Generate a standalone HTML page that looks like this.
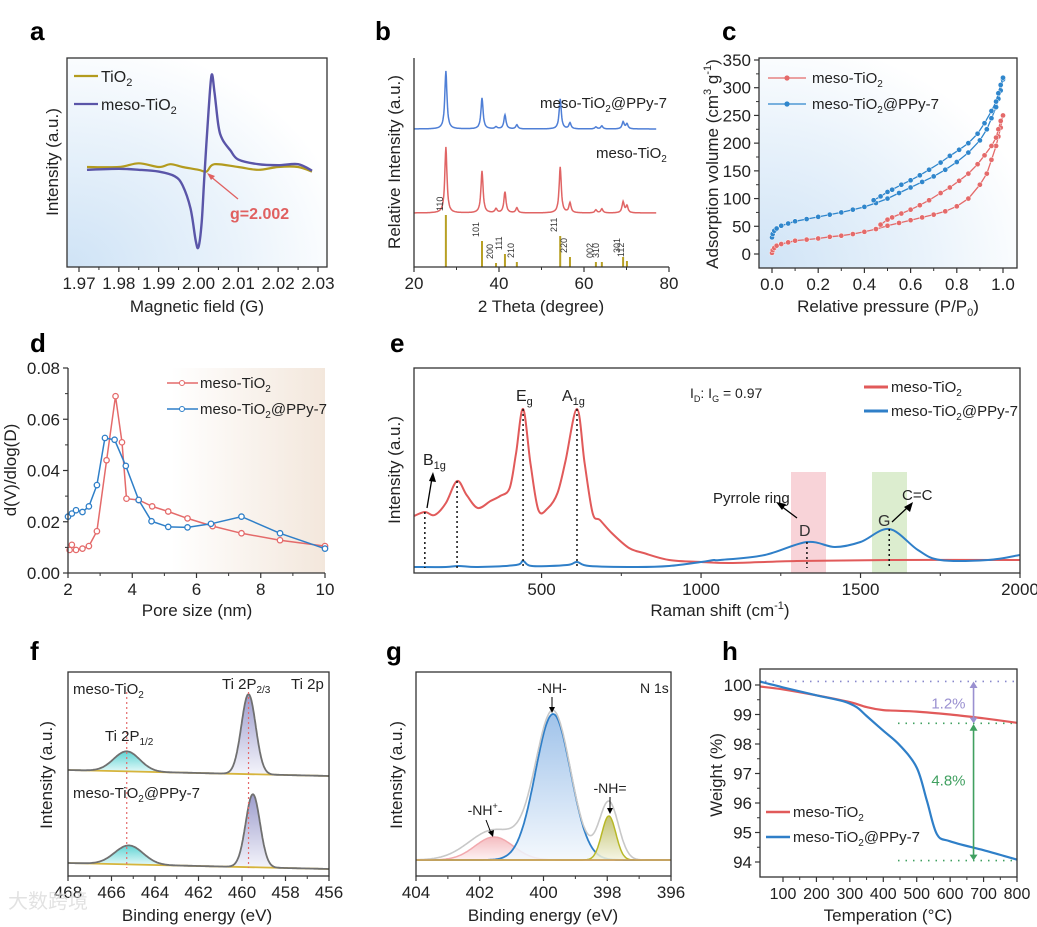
<!DOCTYPE html>
<html><head><meta charset="utf-8"><style>
html,body{margin:0;padding:0;background:#fff;}
svg{display:block;font-family:"Liberation Sans","Noto Sans CJK SC",sans-serif;}
</style></head><body>
<svg id="fig" width="1037" height="927" viewBox="0 0 1037 927" xmlns="http://www.w3.org/2000/svg">
<defs>
<radialGradient id="gBlue" cx="0" cy="1" r="1.1"><stop offset="0" stop-color="#cfe3f6"/><stop offset="0.6" stop-color="#eaf3fb"/><stop offset="1" stop-color="#ffffff"/></radialGradient>
<linearGradient id="gTan" x1="0" x2="1"><stop offset="0" stop-color="#ffffff"/><stop offset="0.4" stop-color="#ffffff"/><stop offset="1" stop-color="#f3e7dc"/></linearGradient>
<linearGradient id="gCyan" x1="0" y1="0" x2="0" y2="1"><stop offset="0" stop-color="#5fd3d3"/><stop offset="1" stop-color="#e6fafa"/></linearGradient>
<linearGradient id="gLav" x1="0" y1="0" x2="0" y2="1"><stop offset="0" stop-color="#9c9ccc"/><stop offset="1" stop-color="#f4f4fb"/></linearGradient>
<linearGradient id="gNH" x1="0" y1="0" x2="0" y2="1"><stop offset="0" stop-color="#8fb8e6"/><stop offset="1" stop-color="#f2f7fd"/></linearGradient>
<linearGradient id="gPink" x1="0" y1="0" x2="0" y2="1"><stop offset="0" stop-color="#f3b0b5"/><stop offset="1" stop-color="#fdf0f1"/></linearGradient>
<linearGradient id="gOlive" x1="0" y1="0" x2="0" y2="1"><stop offset="0" stop-color="#b8b85a"/><stop offset="1" stop-color="#f4f4e0"/></linearGradient>
</defs>
<g font-weight="bold" font-size="26" fill="#000">
<text x="30" y="40">a</text>
<text x="375" y="40">b</text>
<text x="722" y="40">c</text>
<text x="30" y="352">d</text>
<text x="390" y="352">e</text>
<text x="30" y="660">f</text>
<text x="386" y="660">g</text>
<text x="722" y="660">h</text>
</g>
</svg>
<script>
// ---------- data ----------
// a: EPR
const epr_x = [1.972,1.98,1.985,1.99,1.994,1.996,1.998,1.9993,2.0,2.0008,2.0015,2.0025,2.0033,2.004,2.005,2.006,2.008,2.01,2.015,2.02,2.025,2.0285];
const epr_meso = [-0.03,-0.02,-0.03,-0.05,-0.1,-0.2,-0.45,-0.8,-0.87,-0.6,-0.08,0.6,1.0,0.82,0.45,0.3,0.18,0.08,0.03,0.02,0.03,-0.04];
const epr_x2 = [1.972,1.98,1.985,1.99,1.993,1.996,2.0,2.002,2.004,2.01,2.015,2.02,2.025,2.0285];
const epr_tio2 = [0.0,0.0,0.04,0.0,0.03,0.0,-0.03,-0.05,0.03,0.0,-0.03,0.0,0.0,-0.05];
const a_xticks = [1.97,1.98,1.99,2.00,2.01,2.02,2.03];
// b: XRD (peak position, height)
const xrd_pos = [27.5,36.0,39.3,41.4,44.2,54.4,56.7,62.8,64.2,69.2,70.1];
const xrd_red_h = [66,42,4,21,5,46,10,3,4,11,7];
const xrd_blue_h = [58,31,2,14,4,30,6,2,3,7,5];
const ref_h = [52,26,4,13,5,31,10,5,5,10,6];
const ref_lbl = ['110','101','200','111','210','211','220','002','310','301','112'];
const b_xticks = [20,40,60,80];
// c: BET isotherms
const c_red_ads_x = [0,0.003,0.01,0.02,0.04,0.07,0.1,0.15,0.2,0.25,0.3,0.35,0.4,0.45,0.5,0.55,0.6,0.65,0.7,0.75,0.8,0.85,0.9,0.93,0.95,0.97,0.98,0.99,1.0];
const c_red_ads_y = [2,7,11,15,18,21,24,26,28,31,33,36,40,45,51,56,61,66,71,77,86,100,125,145,170,195,212,228,250];
const c_red_des_x = [1.0,0.99,0.98,0.97,0.95,0.92,0.89,0.85,0.81,0.77,0.73,0.68,0.64,0.6,0.56,0.52,0.5,0.47];
const c_red_des_y = [250,240,225,210,195,178,162,145,132,120,110,97,88,80,73,66,62,53];
const c_blue_ads_x = [0,0.003,0.01,0.02,0.04,0.07,0.1,0.15,0.2,0.25,0.3,0.35,0.4,0.45,0.5,0.55,0.6,0.65,0.7,0.75,0.8,0.85,0.9,0.93,0.95,0.97,0.98,0.99,1.0];
const c_blue_ads_y = [30,36,42,46,51,55,59,63,67,71,75,80,85,92,100,110,120,130,140,152,166,183,205,225,245,265,280,295,315];
const c_blue_des_x = [1.0,0.99,0.98,0.97,0.95,0.92,0.89,0.85,0.81,0.77,0.73,0.68,0.64,0.6,0.56,0.52,0.5,0.47,0.44];
const c_blue_des_y = [318,305,290,275,258,236,217,200,188,177,165,152,142,133,125,116,112,104,97];
const c_xticks = [0,0.2,0.4,0.6,0.8,1.0];
const c_yticks = [0,50,100,150,200,250,300,350];
// d: pore size distribution
const d_red_x = [2.05,2.12,2.25,2.45,2.65,2.9,3.2,3.48,3.68,3.82,4.2,4.62,5.12,5.72,6.5,7.4,8.6,10];
const d_red_y = [0.009,0.011,0.009,0.0095,0.0105,0.0163,0.044,0.069,0.051,0.029,0.0285,0.026,0.024,0.0213,0.0183,0.0155,0.0128,0.0105];
const d_blue_x = [2.0,2.12,2.25,2.45,2.65,2.9,3.15,3.45,3.8,4.2,4.6,5.12,5.72,6.45,7.4,8.6,10];
const d_blue_y = [0.022,0.0232,0.0245,0.0238,0.026,0.0343,0.0527,0.052,0.0418,0.0285,0.0202,0.018,0.0178,0.0192,0.022,0.0155,0.0095];
const d_xticks = [2,4,6,8,10];
const d_yticks = [0,0.02,0.04,0.06,0.08];
// e: Raman
const e_red_x = [100,134,165,200,235,265,300,340,370,400,420,442,465,490,520,550,575,611,635,660,683,720,774,820,900,1000,1100,1300,1600,2000];
const e_red_y = [57,61,58,70,92,78,65,72,77,85,120,164,110,63,65,80,112,164,110,60,53,40,25,20,13,11,10,12,13,13];
const e_blue_x = [100,200,240,300,420,442,470,580,611,650,800,900,1000,1040,1060,1200,1332,1420,1500,1590,1680,1750,1900,2000];
const e_blue_y = [6,6,7,6,8,12,7,8,11,7,6,7,11,13,13,18,31,26,31,44,23,13,13,18];
const e_marks = [134,235,442,611,1332,1590];
const e_xticks = [500,1000,1500,2000];
// f: Ti 2p fits (center eV, height, sigma)
const f_up_c = [459.7,465.3], f_up_h = [80,20], f_up_s = [0.33,0.6];
const f_lo_c = [459.5,465.2], f_lo_h = [73,19], f_lo_s = [0.33,0.65];
const f_up_bg = [107,101], f_lo_bg = [14,8];
const f_xticks = [468,466,464,462,460,458,456];
// g: N 1s fits
const g_c = [401.55,399.7,397.95], g_h = [23,146,44], g_s = [0.6,0.55,0.22];
const g_env_h = [30,148,58];
const g_xticks = [404,402,400,398,396];
// h: TGA
const h_red_x = [30,100,200,300,350,400,500,600,700,800];
const h_red_y = [99.95,99.85,99.65,99.42,99.25,99.15,99.1,99.0,98.87,98.72];
const h_blue_x = [30,100,200,280,320,350,400,450,500,530,560,600,700,800];
const h_blue_y = [100.12,99.92,99.65,99.45,99.25,98.95,98.45,97.95,97.2,96.1,94.95,94.7,94.4,94.08];
const h_xticks = [100,200,300,400,500,600,700,800];
const h_yticks = [94,95,96,97,98,99,100];

// ---------- helpers ----------
const NS='http://www.w3.org/2000/svg';
const svg=document.getElementById('fig');
function mk(tag,attrs,parent){const e=document.createElementNS(NS,tag);for(const k in attrs)e.setAttribute(k,attrs[k]);(parent||svg).appendChild(e);return e;}
function lin(d0,d1,r0,r1){return v=>r0+(v-d0)*(r1-r0)/(d1-d0);}
function smooth(pts){let d='M'+pts[0][0].toFixed(1)+','+pts[0][1].toFixed(1);for(let i=0;i<pts.length-1;i++){const p0=pts[i-1]||pts[i],p1=pts[i],p2=pts[i+1],p3=pts[i+2]||p2;const c1=[p1[0]+(p2[0]-p0[0])/6,p1[1]+(p2[1]-p0[1])/6],c2=[p2[0]-(p3[0]-p1[0])/6,p2[1]-(p3[1]-p1[1])/6];d+='C'+c1[0].toFixed(1)+','+c1[1].toFixed(1)+' '+c2[0].toFixed(1)+','+c2[1].toFixed(1)+' '+p2[0].toFixed(1)+','+p2[1].toFixed(1);}return d;}
function poly(pts){return 'M'+pts.map(p=>p[0].toFixed(1)+','+p[1].toFixed(1)).join('L');}
function txt(x,y,s,opts){const t=mk('text',Object.assign({x:x,y:y,'font-size':16,fill:'#222'},opts||{}));t.innerHTML=s;return t;}
function box(x0,y0,x1,y1,name,sides){const g=mk('g',{});
 if(sides==='LB'){mk('path',{d:`M${x0},${y0}V${y1}H${x1}`,fill:'none',stroke:'#333','stroke-width':1.3},g);}
 else mk('rect',{x:x0,y:y0,width:x1-x0,height:y1-y0,fill:'none',stroke:'#333','stroke-width':1.3},g);return g;}
function xTicks(ticks,sx,y,lbls,name,fs){const g=mk('g',{});
 ticks.forEach((t,i)=>{const x=sx(t);mk('line',{x1:x,x2:x,y1:y,y2:y+5,stroke:'#333','stroke-width':1.2},g);const tt=txt(x,y+22,lbls?lbls[i]:String(t),{'text-anchor':'middle','font-size':fs||17});g.appendChild(tt);
 if(i<ticks.length-1){const xm=sx((t+ticks[i+1])/2);mk('line',{x1:xm,x2:xm,y1:y,y2:y+3,stroke:'#333','stroke-width':1},g);}});}
function yTicks(ticks,sy,x,lbls,name,fs){const g=mk('g',{});
 ticks.forEach((t,i)=>{const y=sy(t);mk('line',{x1:x-5,x2:x,y1:y,y2:y,stroke:'#333','stroke-width':1.2},g);const tt=txt(x-8,y+6,lbls?lbls[i]:String(t),{'text-anchor':'end','font-size':fs||17});g.appendChild(tt);
 if(i<ticks.length-1){const ym=sy((t+ticks[i+1])/2);mk('line',{x1:x-3,x2:x,y1:ym,y2:ym,stroke:'#333','stroke-width':1},g);}});}
function ytitle(x,y,s,name){const t=txt(x,y,s,{'text-anchor':'middle','font-size':17,transform:`rotate(-90 ${x} ${y})`});return t;}
function xtitle(x,y,s,name){const t=txt(x,y,s,{'text-anchor':'middle','font-size':17});return t;}
function gauss(c,h,s,x){return h*Math.exp(-0.5*((x-c)/s)**2);}
function lor(c,h,w,x){return h/(1+((x-c)/w)**2);}

// ---------- panel a ----------
{const sx=lin(1.97,2.03,79,318), sy=v=>167-v*92;
 const bg=mk('rect',{x:67,y:58,width:260,height:209,fill:'url(#gBlue)'});
 const l1=mk('path',{d:smooth(epr_x2.map((x,i)=>[sx(x),sy(epr_tio2[i])])),fill:'none',stroke:'#b39b1e','stroke-width':2.2});
 
 
 const l2=mk('path',{d:smooth(epr_x.map((x,i)=>[sx(x),sy(epr_meso[i])])),fill:'none',stroke:'#5a55a8','stroke-width':2.4});
 
 
 box(67,58,327,267,'a-axes-frame');
 xTicks(a_xticks,sx,267,a_xticks.map(v=>v.toFixed(2)),'a-x-ticks');
 xtitle(197,312,'Magnetic field (G)','a-x-title');
 ytitle(58,162,'Intensity (a.u.)','a-y-title');
 const lg=mk('g',{});
 mk('line',{x1:74,x2:98,y1:76,y2:76,stroke:'#b39b1e','stroke-width':2.2},lg);lg.appendChild(txt(101,82,'TiO<tspan font-size="11" dy="4">2</tspan>',{'font-size':16}));
 mk('line',{x1:74,x2:98,y1:104,y2:104,stroke:'#5a55a8','stroke-width':2.2},lg);lg.appendChild(txt(101,110,'meso-TiO<tspan font-size="11" dy="4">2</tspan>',{'font-size':16}));
 const ar=mk('g',{});
 mk('line',{x1:238,x2:210,y1:199,y2:176,stroke:'#e06060','stroke-width':1.3},ar);mk('path',{d:'M207,173 L215,176 L211,180 Z',fill:'#e06060'},ar);
 ar.appendChild(txt(230,219,'g=2.002',{'font-size':16,'font-weight':'bold',fill:'#e06060'}));
}
// ---------- panel b ----------
{const sx=lin(20,80,414,669);
 function spec(base,hs){const pts=[];for(let t=20;t<=77;t+=0.1){let v=0;xrd_pos.forEach((p,i)=>{v+=lor(p,hs[i],0.3,t);});pts.push([sx(t),base-v]);}return poly(pts);}
 const r=mk('path',{d:spec(213,xrd_red_h),fill:'none',stroke:'#e06464','stroke-width':1.5});
 
 
 const b=mk('path',{d:spec(129,xrd_blue_h),fill:'none',stroke:'#4f7fd6','stroke-width':1.5});
 
 
 xrd_pos.forEach((p,i)=>{const x=sx(p);
  const bar=mk('line',{x1:x,x2:x,y1:267,y2:267-ref_h[i],stroke:'#b8a024','stroke-width':2});
  
  
  const lt=txt(x-3,267-ref_h[i]-4,ref_lbl[i],{'font-size':9,fill:'#333',transform:`rotate(-90 ${x-3} ${267-ref_h[i]-4})`});
  
  });
 box(414,58,669,267,'b-axes-frame','LB');
 xTicks(b_xticks,sx,267,null,'b-x-ticks');
 xtitle(541,312,'2 Theta (degree)','b-x-title');
 ytitle(400,162,'Relative Intensity (a.u.)','b-y-title');
 const l1=txt(540,108,'meso-TiO<tspan font-size="10" dy="4">2</tspan><tspan dy="-4">@PPy-7</tspan>',{'font-size':15});
 const l2=txt(596,158,'meso-TiO<tspan font-size="10" dy="4">2</tspan>',{'font-size':15});
}
// ---------- panel c ----------
{const sx=lin(0,1,772,1003), sy=lin(0,350,254,60);
 const bg=mk('rect',{x:759,y:58,width:258,height:210,fill:'url(#gBlue)'});
 function series(xs,ys,col,name){const g=mk('g',{});
  mk('path',{d:poly(xs.map((x,i)=>[sx(x),sy(ys[i])])),fill:'none',stroke:col,'stroke-width':1.3},g);
  xs.forEach((x,i)=>{const c=mk('circle',{cx:sx(x),cy:sy(ys[i]),r:2.6,fill:col,stroke:'#fff','stroke-width':0.5},g);
   
   });}
 series(c_red_ads_x,c_red_ads_y,'#e46a6a','c-meso-adsorption');series(c_red_des_x,c_red_des_y,'#e46a6a','c-meso-desorption');
 series(c_blue_ads_x,c_blue_ads_y,'#2f86cc','c-ppy-adsorption');series(c_blue_des_x,c_blue_des_y,'#2f86cc','c-ppy-desorption');
 box(759,58,1017,268,'c-axes-frame');
 xTicks(c_xticks,sx,268,c_xticks.map(v=>v.toFixed(1)),'c-x-ticks');
 yTicks(c_yticks,sy,759,null,'c-y-ticks');
 xtitle(888,312,'Relative pressure (P/P<tspan font-size="11" dy="4">0</tspan><tspan dy="-4">)</tspan>','c-x-title');
 ytitle(718,164,'Adsorption volume (cm<tspan font-size="11" dy="-7">3</tspan><tspan dy="7"> g</tspan><tspan font-size="11" dy="-7">-1</tspan><tspan dy="7">)</tspan>','c-y-title');
 const lg=mk('g',{});
 mk('line',{x1:768,x2:806,y1:78,y2:78,stroke:'#e46a6a','stroke-width':1.3},lg);mk('circle',{cx:787,cy:78,r:2.6,fill:'#e46a6a'},lg);lg.appendChild(txt(812,83,'meso-TiO<tspan font-size="10" dy="4">2</tspan>',{'font-size':15}));
 mk('line',{x1:768,x2:806,y1:104,y2:104,stroke:'#2f86cc','stroke-width':1.3},lg);mk('circle',{cx:787,cy:104,r:2.6,fill:'#2f86cc'},lg);lg.appendChild(txt(812,109,'meso-TiO<tspan font-size="10" dy="4">2</tspan><tspan dy="-4">@PPy-7</tspan>',{'font-size':15}));
}
// ---------- panel d ----------
{const sx=lin(2,10,68,325), sy=lin(0,0.08,573,368);
 const bg=mk('rect',{x:68,y:368,width:257,height:205,fill:'url(#gTan)'});
 function series(xs,ys,col,name){const g=mk('g',{});
  mk('path',{d:poly(xs.map((x,i)=>[sx(x),sy(ys[i])])),fill:'none',stroke:col,'stroke-width':1.5},g);
  xs.forEach((x,i)=>{const c=mk('circle',{cx:sx(x),cy:sy(ys[i]),r:2.7,fill:'#fff',stroke:col,'stroke-width':1.3},g);
   
   });}
 series(d_red_x,d_red_y,'#e46a6a','d-meso-series');series(d_blue_x,d_blue_y,'#2f7fc8','d-ppy-series');
 box(68,368,325,573,'d-axes-frame','LB');
 xTicks(d_xticks,sx,573,null,'d-x-ticks');
 yTicks(d_yticks,sy,68,d_yticks.map(v=>v.toFixed(2)),'d-y-ticks');
 xtitle(197,616,'Pore size (nm)','d-x-title');
 ytitle(16,470,'d(V)/dlog(D)','d-y-title');
 const lg=mk('g',{});
 mk('line',{x1:167,x2:198,y1:383,y2:383,stroke:'#e46a6a','stroke-width':1.5},lg);mk('circle',{cx:182,cy:383,r:2.5,fill:'#fff',stroke:'#e46a6a'},lg);lg.appendChild(txt(200,388,'meso-TiO<tspan font-size="10" dy="4">2</tspan>',{'font-size':15}));
 mk('line',{x1:167,x2:198,y1:409,y2:409,stroke:'#2f7fc8','stroke-width':1.5},lg);mk('circle',{cx:182,cy:409,r:2.5,fill:'#fff',stroke:'#2f7fc8'},lg);lg.appendChild(txt(200,414,'meso-TiO<tspan font-size="10" dy="4">2</tspan><tspan dy="-4">@PPy-7</tspan>',{'font-size':15}));
}
// ---------- panel e ----------
{const sx=lin(100,2000,414,1020), sy=v=>573-v;
 const r1=mk('rect',{x:791,y:472,width:35,height:101,fill:'#f8d3d8'});
 const r2=mk('rect',{x:872,y:472,width:35,height:101,fill:'#dcedcf'});
 const red=mk('path',{d:smooth(e_red_x.map((x,i)=>[sx(x),sy(e_red_y[i])])),fill:'none',stroke:'#e15a5a','stroke-width':2});
 
 
 const blue=mk('path',{d:smooth(e_blue_x.map((x,i)=>[sx(x),sy(e_blue_y[i])])),fill:'none',stroke:'#2f7fc8','stroke-width':2});
 
 
 e_marks.forEach((m,i)=>{const x=sx(m);const top=i<4?409+ (i===0?103:i===1?72:0):(i===4?542:529);
  const l=mk('line',{x1:x,x2:x,y1:top,y2:568,stroke:'#111','stroke-width':1.5,'stroke-dasharray':'2,3'});
  
  });
 box(414,368,1020,573,'e-axes-frame');
 xTicks(e_xticks,sx,573,null,'e-x-ticks');
 xtitle(720,616,'Raman shift (cm<tspan font-size="11" dy="-7">-1</tspan><tspan dy="7">)</tspan>','e-x-title');
 ytitle(400,470,'Intensity (a.u.)','e-y-title');
 const an=mk('g',{});
 an.appendChild(txt(423,465,'B<tspan font-size="11" dy="4">1g</tspan>',{'font-size':16}));
 mk('line',{x1:427,x2:432,y1:508,y2:478,stroke:'#000','stroke-width':1.3},an);mk('path',{d:'M433,472 L436,482 L429,481 Z',fill:'#000'},an);
 an.appendChild(txt(516,401,'E<tspan font-size="11" dy="4">g</tspan>',{'font-size':16}));
 an.appendChild(txt(562,401,'A<tspan font-size="11" dy="4">1g</tspan>',{'font-size':16}));
 an.appendChild(txt(690,398,'I<tspan font-size="9" dy="4">D</tspan><tspan dy="-4">: I</tspan><tspan font-size="9" dy="4">G</tspan><tspan dy="-4"> = 0.97</tspan>',{'font-size':14}));
 an.appendChild(txt(713,503,'Pyrrole ring',{'font-size':15}));
 mk('line',{x1:797,x2:781,y1:518,y2:506,stroke:'#000','stroke-width':1.3},an);mk('path',{d:'M776,502 L786,504 L782,510 Z',fill:'#000'},an);
 an.appendChild(txt(799,536,'D',{'font-size':16,fill:'#333'}));
 an.appendChild(txt(878,526,'G',{'font-size':16,fill:'#333'}));
 mk('line',{x1:892,x2:908,y1:522,y2:507,stroke:'#000','stroke-width':1.3},an);mk('path',{d:'M913,502 L910,512 L904,507 Z',fill:'#000'},an);
 an.appendChild(txt(902,500,'C=C',{'font-size':15}));
 const lg=mk('g',{});
 mk('line',{x1:864,x2:888,y1:387,y2:387,stroke:'#e15a5a','stroke-width':3},lg);lg.appendChild(txt(891,392,'meso-TiO<tspan font-size="10" dy="4">2</tspan>',{'font-size':15}));
 mk('line',{x1:864,x2:888,y1:411,y2:411,stroke:'#2f7fc8','stroke-width':3},lg);lg.appendChild(txt(891,416,'meso-TiO<tspan font-size="10" dy="4">2</tspan><tspan dy="-4">@PPy-7</tspan>',{'font-size':15}));
}
// ---------- panel f ----------
{const sx=lin(468,456,68,329), sy=v=>877-v;
 function bgv(bg,e){return bg[0]+(bg[1]-bg[0])*(468-e)/12;}
 function draw(cs,hs,ss,bg,nm){
  const grads=['url(#gLav)','url(#gCyan)'];
  cs.forEach((c,k)=>{const pts=[],base=[];for(let e=c+3*ss[k];e>=c-3*ss[k];e-=0.03){pts.push([sx(e),sy(bgv(bg,e)+gauss(c,hs[k],ss[k],e))]);}
   for(let e=c-3*ss[k];e<=c+3*ss[k];e+=0.1)base.push([sx(e),sy(bgv(bg,e))]);
   const f=mk('path',{d:poly(pts)+'L'+base.map(p=>p[0].toFixed(1)+','+p[1].toFixed(1)).join('L')+'Z',fill:grads[k],stroke:'none'});
   
   });
  const bl=mk('line',{x1:68,x2:329,y1:sy(bg[0]),y2:sy(bg[1]),stroke:'#d6b43c','stroke-width':1.8});
  
  
  const pts=[];for(let e=468;e>=456;e-=0.03){let v=bgv(bg,e);cs.forEach((c,k)=>v+=gauss(c,hs[k],ss[k],e));pts.push([sx(e),sy(v)]);}
  const env=mk('path',{d:poly(pts),fill:'none',stroke:'#707070','stroke-width':1.8});
  
  }
 draw(f_up_c,f_up_h,f_up_s,f_up_bg,'f-meso');draw(f_lo_c,f_lo_h,f_lo_s,f_lo_bg,'f-ppy');
 [459.7,465.3].forEach(e=>{const l=mk('line',{x1:sx(e),x2:sx(e),y1:692,y2:868,stroke:'#e46a6a','stroke-width':1.2,'stroke-dasharray':'2,3'});
  
  });
 box(68,672,329,876,'f-axes-frame');
 xTicks(f_xticks,sx,876,null,'f-x-ticks');
 xtitle(197,921,'Binding energy (eV)','f-x-title');
 ytitle(52,775,'Intensity (a.u.)','f-y-title');
 const an=mk('g',{});
 an.appendChild(txt(73,694,'meso-TiO<tspan font-size="10" dy="4">2</tspan>',{'font-size':15}));
 an.appendChild(txt(222,689,'Ti 2P<tspan font-size="10" dy="4">2/3</tspan>',{'font-size':15}));
 an.appendChild(txt(291,689,'Ti 2p',{'font-size':15}));
 an.appendChild(txt(105,741,'Ti 2P<tspan font-size="10" dy="4">1/2</tspan>',{'font-size':15}));
 an.appendChild(txt(73,798,'meso-TiO<tspan font-size="10" dy="4">2</tspan><tspan dy="-4">@PPy-7</tspan>',{'font-size':15}));
 const wm=txt(8,908,'大数跨境',{'font-size':20,fill:'#dcdcdc',opacity:0.8});
}
// ---------- panel g ----------
{const sx=lin(404,396,416,671), sy=v=>877-v, bg=17;
 const fills=['url(#gPink)','url(#gNH)','url(#gOlive)'], strokes=['#f2a9ae','#2f7fc8','#b8b828'];
 g_c.forEach((c,k)=>{const pts=[];for(let e=404;e>=396;e-=0.03)pts.push([sx(e),sy(bg+gauss(c,g_h[k],g_s[k],e))]);
  const f=mk('path',{d:poly(pts)+'Z',fill:fills[k],opacity:0.85});
  
  
  const l=mk('path',{d:poly(pts),fill:'none',stroke:strokes[k],'stroke-width':k===1?1.8:1.5});
  
  });
 const ep=[];for(let e=404;e>=396;e-=0.03){let v=bg;g_c.forEach((c,k)=>v+=gauss(c,g_env_h[k],k===2?0.3:g_s[k]*(k===0?1.3:1),e));ep.push([sx(e),sy(v)]);}
 const env=mk('path',{d:poly(ep),fill:'none',stroke:'#c8c8c8','stroke-width':1.6});
 
 
 const bl=mk('line',{x1:416,x2:671,y1:sy(bg),y2:sy(bg),stroke:'#c9a05a','stroke-width':1.8});
 box(416,672,671,876,'g-axes-frame');
 xTicks(g_xticks,sx,876,null,'g-x-ticks');
 xtitle(543,921,'Binding energy (eV)','g-x-title');
 ytitle(402,775,'Intensity (a.u.)','g-y-title');
 const an=mk('g',{});
 an.appendChild(txt(552,693,'-NH-',{'font-size':14,'text-anchor':'middle'}));
 mk('line',{x1:552,x2:552,y1:697,y2:708,stroke:'#000'},an);mk('path',{d:'M549,707 L555,707 L552,713Z',fill:'#000'},an);
 an.appendChild(txt(640,693,'N 1s',{'font-size':14}));
 an.appendChild(txt(610,793,'-NH=',{'font-size':14,'text-anchor':'middle'}));
 mk('line',{x1:610,x2:610,y1:797,y2:809,stroke:'#000'},an);mk('path',{d:'M607,808 L613,808 L610,814Z',fill:'#000'},an);
 an.appendChild(txt(485,815,'-NH<tspan font-size="9" dy="-6">+</tspan><tspan dy="6">-</tspan>',{'font-size':14,'text-anchor':'middle'}));
 mk('line',{x1:486,x2:491,y1:820,y2:833,stroke:'#000'},an);mk('path',{d:'M488,832 L494,830 L493,837Z',fill:'#000'},an);
}
// ---------- panel h ----------
{const sx=lin(100,800,783,1017), sy=lin(94,100,862,685);
 [[100.12,'#8888cc',765],[98.7,'#40a060',898],[94.05,'#40a060',898]].forEach(([v,c,x0])=>{const l=mk('line',{x1:x0,x2:1016,y1:sy(v),y2:sy(v),stroke:c,'stroke-width':1.6,'stroke-dasharray':'1.5,6'});
  
  });
 const r=mk('path',{d:smooth(h_red_x.map((x,i)=>[sx(x),sy(h_red_y[i])])),fill:'none',stroke:'#e15a5a','stroke-width':2.2});
 
 
 const b=mk('path',{d:smooth(h_blue_x.map((x,i)=>[sx(x),sy(h_blue_y[i])])),fill:'none',stroke:'#2f7fc8','stroke-width':2.2});
 
 
 const ax=sx(670);const an=mk('g',{});
 mk('line',{x1:ax,x2:ax,y1:sy(100.05),y2:sy(98.78),stroke:'#9a90d0','stroke-width':1.6},an);
 mk('path',{d:`M${ax-4},${sy(99.9)} L${ax},${sy(100.12)} L${ax+4},${sy(99.9)}Z M${ax-4},${sy(98.9)} L${ax},${sy(98.7)} L${ax+4},${sy(98.9)}Z`,fill:'#9a90d0'},an);
 mk('line',{x1:ax,x2:ax,y1:sy(98.6),y2:sy(94.15),stroke:'#40a060','stroke-width':1.6},an);
 mk('path',{d:`M${ax-4},${sy(98.45)} L${ax},${sy(98.68)} L${ax+4},${sy(98.45)}Z M${ax-4},${sy(94.25)} L${ax},${sy(94.05)} L${ax+4},${sy(94.25)}Z`,fill:'#40a060'},an);
 an.appendChild(txt(ax-8,sy(99.4)+6,'1.2%',{'font-size':15,fill:'#9a90d0','text-anchor':'end'}));
 an.appendChild(txt(ax-8,sy(96.8)+6,'4.8%',{'font-size':15,fill:'#40a060','text-anchor':'end'}));
 box(760,669,1017,877,'h-axes-frame');
 xTicks(h_xticks,sx,877,null,'h-x-ticks',16);
 yTicks(h_yticks,sy,760,null,'h-y-ticks');
 xtitle(888,921,'Temperation (°C)','h-x-title');
 ytitle(722,775,'Weight (%)','h-y-title');
 const lg=mk('g',{});
 mk('line',{x1:766,x2:790,y1:812,y2:812,stroke:'#e15a5a','stroke-width':2.5},lg);lg.appendChild(txt(793,817,'meso-TiO<tspan font-size="10" dy="4">2</tspan>',{'font-size':15}));
 mk('line',{x1:766,x2:790,y1:837,y2:837,stroke:'#2f7fc8','stroke-width':2.5},lg);lg.appendChild(txt(793,842,'meso-TiO<tspan font-size="10" dy="4">2</tspan><tspan dy="-4">@PPy-7</tspan>',{'font-size':15}));
}
</script>
</body></html>
